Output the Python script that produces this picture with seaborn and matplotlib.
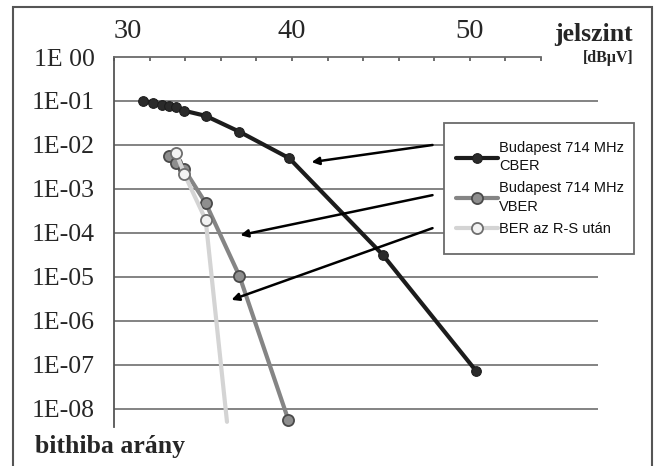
import numpy as np
import pandas as pd
import matplotlib.pyplot as plt
import matplotlib.ticker as mticker
from matplotlib.patches import Rectangle
import seaborn as sns

# jelszint [dBuV] and bit error rate values
cber_x = [31.65, 32.2, 32.7, 33.1, 33.5, 33.95, 35.15, 37.05, 39.85, 45.1, 50.35]
cber_y = [0.102, 0.091, 0.082, 0.078, 0.072, 0.060, 0.046, 0.020, 0.005, 3.2e-5, 7.3e-8]

vber_x = [33.1, 33.5, 33.95, 35.15, 37.05, 39.8]
vber_y = [5.6e-3, 3.9e-3, 2.8e-3, 4.8e-4, 1.05e-5, 5.6e-9]

rs_x = [33.5, 33.95, 35.15, 36.35]
rs_y = [6.6e-3, 2.2e-3, 2.0e-4, 5.1e-9]

labels = ["Budapest 714 MHz\nCBER", "Budapest 714 MHz\nVBER", "BER az R-S után"]
y_ticks = [1, 1e-1, 1e-2, 1e-3, 1e-4, 1e-5, 1e-6, 1e-7, 1e-8]
y_ticklabels = ["1E 00", "1E-01", "1E-02", "1E-03", "1E-04", "1E-05", "1E-06", "1E-07", "1E-08"]
x_major = [30, 40, 50]

sns.set_style("white")
plt.rcParams["font.family"] = ["Liberation Serif", "DejaVu Serif"]

W, H = 655, 466
fig = plt.figure(figsize=(W / 100, H / 100), dpi=100)
ax = fig.add_axes([114 / W, 1 - 427 / H, 484 / W, 370 / H])

sns.lineplot(x=cber_x, y=cber_y, ax=ax, color="#1c1c1c", lw=3, marker="o",
             markersize=7, markerfacecolor="#2a2a2a", markeredgecolor="#1c1c1c",
             label=labels[0], zorder=3)
sns.lineplot(x=vber_x, y=vber_y, ax=ax, color="#858585", lw=3, marker="o",
             markersize=8, markerfacecolor="#8e8e8e", markeredgecolor="#4a4a4a",
             markeredgewidth=1.3, label=labels[1], zorder=4)
sns.lineplot(x=rs_x, y=rs_y, ax=ax, color="#d4d4d4", lw=3, marker="o",
             markersize=8, markerfacecolor="#f2f2f2", markeredgecolor="#6e6e6e",
             markeredgewidth=1.3, markevery=[0, 1, 2], label=labels[2], zorder=5)

ax.set_yscale("log")
ax.set_ylim(10 ** -8.41, 1)
ax.set_xlim(30, 57.2)

# y axis
ax.yaxis.set_major_locator(mticker.FixedLocator(y_ticks))
ax.yaxis.set_minor_locator(mticker.NullLocator())
ax.set_yticklabels(y_ticklabels, fontsize=18.5)
ax.tick_params(axis="y", direction="out", length=3, width=1.2, color="#555555", pad=11)
ax.grid(axis="y", color="#7a7a7a", lw=1.3)
ax.get_ygridlines()[0].set_visible(False)

# x axis on top
ax.xaxis.tick_top()
ax.xaxis.set_major_locator(mticker.FixedLocator(x_major))
ax.xaxis.set_minor_locator(mticker.FixedLocator([v for v in range(32, 55, 2) if v not in x_major]))
ax.set_xticklabels([str(v) for v in x_major], fontsize=20.5)
ax.tick_params(axis="x", which="both", direction="in", length=3, width=1.2,
               color="#555555", pad=9)
ax.get_xticklabels()[0].set_horizontalalignment("left")

for side in ["right", "bottom"]:
    ax.spines[side].set_visible(False)
ax.spines["top"].set_bounds(30, 54)
ax.spines["top"].set_color("#6a6a6a")
ax.spines["top"].set_linewidth(1.3)
ax.spines["left"].set_color("#555555")
ax.spines["left"].set_linewidth(1.3)
ax.set_xlabel("")
ax.set_ylabel("")

# legend box drawn separately so its padding matches the original
box = Rectangle((444 / W, 1 - 254 / H), 190 / W, 131 / H, transform=fig.transFigure,
                facecolor="white", edgecolor="#6a6a6a", lw=1.3, zorder=9, clip_on=False)
ax.add_patch(box)
leg = ax.legend(loc="upper left", bbox_to_anchor=(456 / W, 1 - 141 / H),
                bbox_transform=fig.transFigure, frameon=False,
                prop={"family": "Liberation Sans", "size": 10.5},
                handlelength=2.9, handletextpad=0.05, labelspacing=0.55,
                borderpad=0, borderaxespad=0)
for t in leg.get_texts():
    t.set_linespacing(1.4)
    t.set_color("#111111")
leg.set_zorder(10)

# arrows from the legend to the curves
arrows = [((47.9, 10 ** -2.0), (41.1, 10 ** -2.39)),
          ((47.9, 10 ** -3.14), (37.1, 10 ** -4.05)),
          ((47.9, 10 ** -3.89), (36.6, 10 ** -5.52))]
for start, end in arrows:
    ax.annotate("", xy=end, xytext=start,
                arrowprops=dict(arrowstyle="-|>", color="black", lw=1.8,
                                mutation_scale=11, shrinkA=0, shrinkB=0),
                zorder=6)

fig.text(594 / W, 1 - 34 / H, "jelszint", fontsize=18.5, fontweight="bold",
         ha="center", va="center")
fig.text(608 / W, 1 - 58 / H, "[dBμV]", fontsize=11.5, fontweight="bold",
         ha="center", va="center")
fig.text(35 / W, 1 - 447 / H, "bithiba arány", fontsize=18.5, fontweight="bold",
         ha="left", va="center")

fig.patches.append(Rectangle((13 / W, -0.01), 639 / W, 1 - 7 / H + 0.01,
                             transform=fig.transFigure, fill=False,
                             edgecolor="#555555", lw=1.5))

fig.savefig("out.png", dpi=100)
